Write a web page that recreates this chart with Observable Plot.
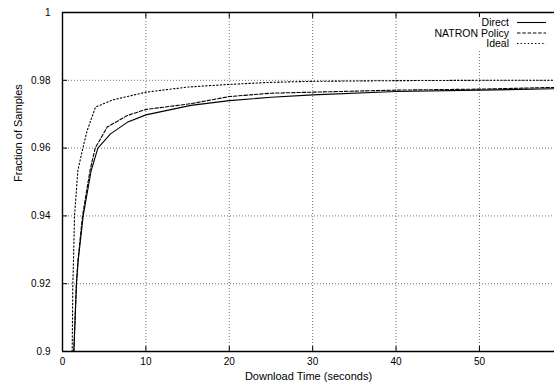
<!DOCTYPE html>
<html>
<head>
<meta charset="utf-8">
<script src="https://cdn.jsdelivr.net/npm/d3@7"></script>
<script src="https://cdn.jsdelivr.net/npm/@observablehq/plot@0.6"></script>
<style>
  html, body { margin: 0; padding: 0; background: #fff; }
</style>
</head>
<body>
<script>
// Series data (download time in seconds, fraction of samples)
const directX = [1.36, 1.68, 1.88, 2.48, 3.44, 4.24, 5.76, 7.76, 10, 15.4, 20, 25, 30, 40, 50, 59];
const directY = [0.9, 0.92, 0.9268, 0.94, 0.9534, 0.96, 0.9642, 0.9676, 0.9698, 0.9726, 0.974, 0.975, 0.9757, 0.9767, 0.9771, 0.9775];

const natronX = [1.36, 1.66, 1.85, 2.4, 3.3, 3.92, 5.36, 7.76, 10, 15.4, 20, 25, 30, 40, 50, 59];
const natronY = [0.9, 0.92, 0.9268, 0.94, 0.9534, 0.96, 0.9662, 0.9696, 0.9714, 0.9731, 0.9752, 0.9762, 0.9765, 0.9771, 0.9774, 0.9779];

const idealX = [1.16, 1.24, 1.32, 1.44, 1.84, 2.44, 2.96, 3.96, 6, 10, 15, 20, 25, 30, 40, 50, 59];
const idealY = [0.9, 0.92, 0.9268, 0.94, 0.9534, 0.96, 0.9652, 0.9721, 0.9742, 0.9765, 0.978, 0.9788, 0.9794, 0.9797, 0.9799, 0.98, 0.98];

const seriesNames = ["Direct", "NATRON Policy", "Ideal"];
const xTicks = [0, 10, 20, 30, 40, 50];
const yTicks = [0.9, 0.92, 0.94, 0.96, 0.98, 1];
const xDomain = [0, 59];
const yDomain = [0.9, 1];
const xLabel = "Download Time (seconds)";
const yLabel = "Fraction of Samples";

const dashes = ["none", "3.5,1.8", "1.4,2.2"];
const toRows = (xs, ys) => xs.map((x, i) => ({x, y: ys[i]}));
const series = [toRows(directX, directY), toRows(natronX, natronY), toRows(idealX, idealY)];

const font = "'Liberation Sans', Arial, Helvetica, sans-serif";
const gridStyle = {stroke: "#000", strokeOpacity: 0.55, strokeDasharray: "1,2", strokeWidth: 1};

const svg = Plot.plot({
  width: 554,
  height: 385,
  marginLeft: 62,
  marginRight: 0,
  marginTop: 12,
  marginBottom: 34,
  style: {fontFamily: font, fontSize: "10px", background: "#fff", color: "#000"},
  x: {domain: xDomain},
  y: {domain: yDomain},
  marks: [
    Plot.gridX(xTicks.slice(1), gridStyle),
    Plot.gridY(yTicks.slice(1, -1), gridStyle),
    ...series.map((rows, i) => Plot.line(rows, {
      x: "x", y: "y", stroke: "#000", strokeWidth: 1.1,
      strokeDasharray: dashes[i] === "none" ? null : dashes[i],
      clip: true
    })),
    // inward tick marks
    Plot.axisX(xTicks, {anchor: "bottom", tickSize: 5, dy: -5, tickFormat: () => "", label: null}),
    Plot.axisX(xTicks, {anchor: "top", tickSize: 5, dy: 5, tickFormat: () => "", label: null}),
    Plot.axisY(yTicks, {anchor: "left", tickSize: 5, dx: 5, tickFormat: () => "", label: null}),
    // tick labels
    Plot.axisX(xTicks, {anchor: "bottom", tickSize: 0, tickPadding: 6, label: null, tickFormat: d3.format("d")}),
    Plot.axisY(yTicks, {anchor: "left", tickSize: 0, tickPadding: 12, label: null, tickFormat: d => String(+d.toFixed(2))}),
    // frame (left, bottom, top)
    Plot.ruleX([xDomain[0]], {stroke: "#000", strokeWidth: 1.4}),
    Plot.ruleY(yDomain, {stroke: "#000", strokeWidth: 1.4}),
    // axis titles
    Plot.text([xLabel], {frameAnchor: "bottom", dy: 28, fontSize: 11, fill: "#000"}),
    Plot.text([yLabel], {frameAnchor: "left", dx: -44, rotate: -90, fontSize: 11, fill: "#000"})
  ]
});

// Legend inside the top-right corner
const g = d3.select(svg).append("g")
  .attr("font-family", font)
  .attr("font-size", 10.5);
g.append("rect").attr("x", 428).attr("y", 17).attr("width", 122).attr("height", 32).attr("fill", "#fff");
const rowY = [22.5, 33, 43.5];
seriesNames.forEach((name, i) => {
  g.append("text").attr("x", 509).attr("y", rowY[i]).attr("dy", "0.35em")
    .attr("text-anchor", "end").attr("fill", "#000").text(name);
  g.append("line").attr("x1", 517).attr("x2", 546).attr("y1", rowY[i]).attr("y2", rowY[i])
    .attr("stroke", "#000").attr("stroke-width", 1.1)
    .attr("stroke-dasharray", dashes[i] === "none" ? null : dashes[i]);
});

document.body.appendChild(svg);
</script>
</body>
</html>
